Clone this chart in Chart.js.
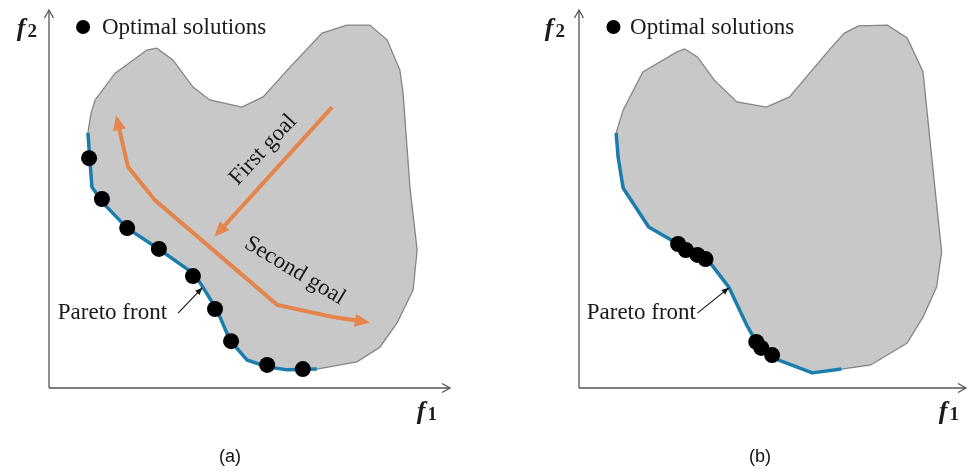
<!DOCTYPE html>
<html><head><meta charset="utf-8">
<script src="https://cdn.jsdelivr.net/npm/chart.js@4/dist/chart.umd.min.js"></script>
<style>
html,body{margin:0;padding:0;background:#fff;}
#wrap{position:relative;width:974px;height:472px;overflow:hidden;background:#fff;}
.panel{position:absolute;top:0;width:487px;height:472px;}
</style></head><body>
<div id="wrap">
<div class="panel" style="left:0"><canvas id="ca" width="487" height="472"></canvas></div>
<div class="panel" style="left:487px"><canvas id="cb" width="487" height="472"></canvas></div>
</div>
<script>
// ---------- Panel (a) data (f1, f2 in arbitrary units 0..100) ----------
const regionA_f1 = [9.7, 10.5, 11.5, 16.5, 24.4, 26.9, 30.9, 35.9, 40.1, 48.1, 53.4, 60.1, 68.1, 74.3, 80.0, 84.3, 87.5, 88.3, 90.0, 91.8, 90.8, 86.8, 82.5, 76.8, 66.8];
const regionA_f2 = [67.5, 72.8, 76.2, 83.3, 89.4, 89.9, 86.8, 79.6, 76.2, 74.3, 77.0, 84.9, 93.9, 96.0, 96.0, 92.1, 84.1, 78.0, 53.2, 36.5, 25.9, 17.2, 10.8, 6.9, 5.0];
const paretoA_f1 = [66.8, 59.4, 54.4, 49.4, 45.1, 41.9, 37.7, 35.9, 27.7, 19.5, 13.5, 10.7, 9.7];
const paretoA_f2 = [5.0, 4.8, 5.6, 7.4, 12.7, 20.6, 27.8, 30.4, 36.5, 42.3, 48.9, 53.2, 67.5];
const optimalA_f1 = [10.0, 13.2, 19.5, 27.4, 35.9, 41.4, 45.4, 54.4, 63.3];
const optimalA_f2 = [60.8, 50.0, 42.3, 36.8, 29.6, 20.9, 12.4, 6.1, 5.0];
const firstGoal_f1 = [70.6, 42.1];
const firstGoal_f2 = [74.3, 41.0];
const secondGoal_f1 = [17.0, 19.7, 26.4, 56.9, 70.8, 78.8];
const secondGoal_f2 = [70.9, 58.5, 49.7, 22.0, 18.8, 17.5];

// ---------- Panel (b) data ----------
const regionB_f1 = [9.6, 11.4, 16.5, 25.3, 27.3, 30.6, 34.9, 40.8, 48.4, 54.4, 64.6, 68.6, 72.2, 79.7, 84.8, 88.9, 91.4, 93.7, 92.4, 88.9, 84.8, 75.4, 67.8];
const regionB_f2 = [67.5, 73.5, 83.6, 88.9, 89.7, 87.6, 81.5, 75.7, 74.3, 77.0, 89.4, 93.9, 95.8, 96.0, 92.6, 83.6, 58.5, 36.0, 26.7, 18.8, 11.9, 6.1, 5.0];
const paretoB_f1 = [67.8, 60.3, 51.6, 45.8, 43.3, 38.7, 33.9, 25.6, 18.0, 11.4, 10.1, 9.6];
const paretoB_f2 = [5.0, 4.0, 7.4, 12.2, 16.7, 26.7, 33.1, 38.1, 42.6, 52.9, 61.1, 67.5];
const optimalB_f1 = [25.6, 27.6, 30.6, 32.7, 45.8, 47.1, 49.9];
const optimalB_f2 = [38.1, 36.5, 35.2, 34.1, 12.2, 10.6, 8.7];

// ---------- Text labels ----------
const legendLabel = 'Optimal solutions';
const paretoLabel = 'Pareto front';
const firstGoalLabel = 'First goal';
const secondGoalLabel = 'Second goal';
const panelCaptions = ['(a)', '(b)'];

const pts = (xs, ys) => xs.map((v, i) => ({x: v, y: ys[i]}));

const COL = {
  regionFill: '#c8c8c8', regionLine: '#858585', pareto: '#1b7dab',
  orange: '#e5844b', dot: '#000000', axis: '#555555', text: '#1a1a1a'
};
const SERIF = "'Liberation Serif', 'Times New Roman', serif";

function arrowHead(ctx, x0, y0, x1, y1, len, half, color, overshoot) {
  const dx = x1 - x0, dy = y1 - y0, L = Math.hypot(dx, dy) || 1;
  const ux = dx / L, uy = dy / L;
  const tx = x1 + ux * overshoot, ty = y1 + uy * overshoot;
  const bx = tx - ux * len, by = ty - uy * len;
  ctx.fillStyle = color;
  ctx.beginPath();
  ctx.moveTo(tx, ty);
  ctx.lineTo(bx - uy * half, by + ux * half);
  ctx.lineTo(bx + uy * half, by - ux * half);
  ctx.closePath();
  ctx.fill();
}

const diagramPlugin = {
  id: 'diagram',
  afterDatasetsDraw(chart) {
    const ctx = chart.ctx;
    chart.data.datasets.forEach((ds, i) => {
      if (!ds.arrow) return;
      const pts = chart.getDatasetMeta(i).data;
      const n = pts.length;
      ctx.save();
      if (ds.arrow === 'both' || ds.arrow === 'start')
        arrowHead(ctx, pts[1].x, pts[1].y, pts[0].x, pts[0].y, 15, 6.5, ds.borderColor, 5);
      if (ds.arrow === 'both' || ds.arrow === 'end')
        arrowHead(ctx, pts[n-2].x, pts[n-2].y, pts[n-1].x, pts[n-1].y, 15, 6.5, ds.borderColor, 5);
      ctx.restore();
    });
  },
  afterDraw(chart, args, o) {
    const ctx = chart.ctx, ca = chart.chartArea;
    const X = v => chart.scales.x.getPixelForValue(v), Y = v => chart.scales.y.getPixelForValue(v);
    ctx.save();
    // axes with open arrow tips
    ctx.strokeStyle = COL.axis; ctx.lineWidth = 1.3; ctx.lineJoin = 'miter';
    ctx.beginPath();
    ctx.moveTo(ca.left, ca.bottom); ctx.lineTo(ca.right, ca.bottom);
    ctx.moveTo(ca.left, ca.bottom); ctx.lineTo(ca.left, ca.top);
    ctx.stroke();
    ctx.beginPath();
    ctx.moveTo(ca.right - 8, ca.bottom - 4.5); ctx.lineTo(ca.right, ca.bottom); ctx.lineTo(ca.right - 8, ca.bottom + 4.5);
    ctx.moveTo(ca.left - 4.5, ca.top + 8); ctx.lineTo(ca.left, ca.top); ctx.lineTo(ca.left + 4.5, ca.top + 8);
    ctx.stroke();

    // axis labels f1 / f2
    const drawF = (sub, right, base) => {
      ctx.fillStyle = COL.text; ctx.textBaseline = 'alphabetic'; ctx.textAlign = 'left';
      ctx.font = "bold 19px " + SERIF;
      const ws = ctx.measureText(sub).width;
      ctx.font = "italic bold 26px " + SERIF;
      const wf = ctx.measureText('f').width;
      const x0 = right - ws - wf - 2;
      ctx.fillText('f', x0, base);
      ctx.font = "bold 19px " + SERIF;
      ctx.fillText(sub, x0 + wf + 2, base + 1);
    };
    drawF('2', ca.left - o.f2Gap, 36);
    drawF('1', ca.right - o.f1Gap, 419);

    // legend
    ctx.fillStyle = COL.dot;
    ctx.beginPath(); ctx.arc(X(o.legend.x), Y(o.legend.y), 7, 0, Math.PI * 2); ctx.fill();
    ctx.fillStyle = COL.text; ctx.font = "23px " + SERIF; ctx.textAlign = 'left'; ctx.textBaseline = 'middle';
    ctx.fillText(legendLabel, X(o.legend.tx), Y(o.legend.y) + 1);

    // Pareto front label and pointer
    ctx.fillText(paretoLabel, X(o.pareto.tx), Y(o.pareto.ty));
    const p0 = {x: X(o.pareto.ax0), y: Y(o.pareto.ay0)}, p1 = {x: X(o.pareto.ax1), y: Y(o.pareto.ay1)};
    ctx.strokeStyle = '#111'; ctx.lineWidth = 1.1;
    ctx.beginPath(); ctx.moveTo(p0.x, p0.y); ctx.lineTo(p1.x, p1.y); ctx.stroke();
    arrowHead(ctx, p0.x, p0.y, p1.x, p1.y, 7, 3, '#111', 0);

    // goal labels
    (o.goals || []).forEach(g => {
      ctx.save();
      ctx.translate(X(g.x), Y(g.y));
      ctx.rotate(g.angle * Math.PI / 180);
      ctx.fillStyle = COL.text; ctx.font = "23px " + SERIF; ctx.textAlign = 'center'; ctx.textBaseline = 'middle';
      ctx.fillText(g.text, 0, 0);
      ctx.restore();
    });

    // caption
    ctx.fillStyle = '#111'; ctx.font = "18px 'Liberation Sans', Arial, sans-serif"; ctx.textAlign = 'center'; ctx.textBaseline = 'middle';
    ctx.fillText(o.caption, o.captionX, 457);
    ctx.restore();
  }
};

function makeChart(id, d, padding, diag) {
  return new Chart(document.getElementById(id), {
    type: 'line',
    data: {
      datasets: [
        {data: pts(d.of1, d.of2), showLine: false, pointRadius: 8, pointBackgroundColor: COL.dot, pointBorderWidth: 0, order: 0},
        ...d.arrows.map(a => ({data: pts(a.f1, a.f2), borderColor: COL.orange, borderWidth: 4, pointRadius: 0, fill: false, tension: 0, arrow: a.arrow, borderJoinStyle: 'miter', order: 1})),
        {data: pts(d.pf1, d.pf2), borderColor: COL.pareto, borderWidth: 3.5, pointRadius: 0, fill: false, tension: 0, borderJoinStyle: 'round', order: 2},
        {data: pts(d.rf1.concat(d.pf1), d.rf2.concat(d.pf2)), borderColor: COL.regionLine, borderWidth: 1.3, backgroundColor: COL.regionFill, fill: 'shape', pointRadius: 0, tension: 0, order: 3}
      ]
    },
    options: {
      responsive: false, animation: false, events: [],
      layout: {padding: padding},
      scales: {
        x: {type: 'linear', min: 0, max: 100, display: false},
        y: {type: 'linear', min: 0, max: 100, display: false}
      },
      plugins: {legend: {display: false}, tooltip: {enabled: false}, diagram: diag}
    },
    plugins: [diagramPlugin]
  });
}

makeChart('ca', {
  rf1: regionA_f1, rf2: regionA_f2, pf1: paretoA_f1, pf2: paretoA_f2, of1: optimalA_f1, of2: optimalA_f2,
  arrows: [
    {f1: firstGoal_f1, f2: firstGoal_f2, arrow: 'end'},
    {f1: secondGoal_f1, f2: secondGoal_f2, arrow: 'both'}
  ]
}, {left: 49, right: 37, top: 10, bottom: 84}, {
  f2Gap: 12, f1Gap: 13, caption: panelCaptions[0], captionX: 230,
  legend: {x: 8.5, y: 95.5, tx: 13.2},
  pareto: {tx: 2.2, ty: 19.8, ax0: 32.2, ay0: 19.8, ax1: 38.2, ay1: 26.5},
  goals: [
    {text: firstGoalLabel, x: 53.4, y: 63.0, angle: -47},
    {text: secondGoalLabel, x: 61.3, y: 31.0, angle: 31}
  ]
});

makeChart('cb', {
  rf1: regionB_f1, rf2: regionB_f2, pf1: paretoB_f1, pf2: paretoB_f2, of1: optimalB_f1, of2: optimalB_f2,
  arrows: []
}, {left: 92, right: 1, top: 10, bottom: 84}, {
  f2Gap: 14, f1Gap: 7, caption: panelCaptions[1], captionX: 273,
  legend: {x: 8.9, y: 95.5, tx: 13.2},
  pareto: {tx: 2.0, ty: 19.8, ax0: 30.6, ay0: 19.8, ax1: 38.7, ay1: 26.5},
  goals: []
});
</script>
</body></html>
